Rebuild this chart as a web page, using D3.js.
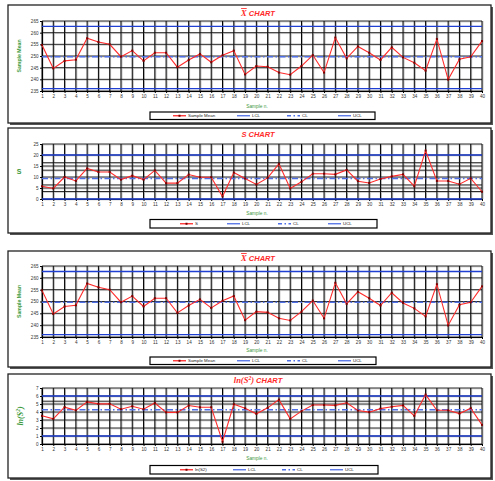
<!DOCTYPE html>
<html>
<head>
<meta charset="utf-8">
<script src="https://cdn.jsdelivr.net/npm/d3@7"></script>
<style>
  body { margin: 0; background: #fff; }
  svg { display: block; font-family: "Liberation Sans", Arial, sans-serif; }
</style>
</head>
<body>
<svg id="chart" width="495" height="481"></svg>
<script>
// ---- data -------------------------------------------------------------
const samples = [1,2,3,4,5,6,7,8,9,10,11,12,13,14,15,16,17,18,19,20,
                 21,22,23,24,25,26,27,28,29,30,31,32,33,34,35,36,37,38,39,40];

const sampleMean = [254.7,244.7,247.9,248.4,257.6,256.0,255.0,249.7,252.3,247.9,
                    251.4,251.4,245.2,248.3,250.9,247.3,250.3,252.3,242.1,245.7,
                    245.4,242.9,242.0,245.7,250.4,242.9,257.9,249.0,254.1,251.4,
                    248.3,253.7,249.4,247.1,243.7,257.3,239.9,248.6,249.7,256.4];

const sValues = [5.8,4.8,10.0,8.2,13.9,12.3,12.3,8.8,10.6,8.8,
                 13.0,7.2,7.2,11.1,9.9,9.9,1.15,12.0,9.3,6.6,
                 9.6,16.0,4.8,7.8,11.5,11.5,11.2,13.2,8.1,7.3,
                 9.1,10.3,11.2,5.8,22.0,8.2,8.2,6.7,9.4,3.3];

const lnS2Values = [3.52,3.14,4.61,4.21,5.26,5.02,5.02,4.35,4.72,4.35,
                    5.13,3.95,3.95,4.81,4.59,4.59,0.28,4.97,4.46,3.77,
                    4.52,5.55,3.14,4.11,4.88,4.88,4.83,5.16,4.18,3.98,
                    4.42,4.66,4.83,3.52,6.18,4.21,4.21,3.80,4.48,2.39];

// control limits: [LCL, CL, UCL]
const xbarLimits = [236.0, 249.7, 262.7];
const sLimits    = [0, 9.3, 20];
const lnLimits   = [1.0, 4.28, 6.0];

// axis ticks
const xbarTicks = [235,240,245,250,255,260,265];
const sTicks    = [0,5,10,15,20,25];
const lnTicks   = [0,1,2,3,4,5,6,7];

// additional horizontal grid values
const sGrid  = [3.4, 6.4, 13.1, 16.5];
const lnGrid = [5.35];

const legendLabels = ["LCL", "CL", "UCL"];

// ---- layout -----------------------------------------------------------
const svg = d3.select("#chart");
const RED = "#ff2a2a", BLUE = "#1e3fd2", BLUE_CL = "#4f6fe6", GREEN = "#3c9a3c";

const panels = [
  { title: "xbar", values: sampleMean, seriesName: "Sample Mean", yTitle: "Sample Mean",
    limits: xbarLimits, ticks: xbarTicks, grid: [],
    box: [8, 5, 483, 118], plotY: [21, 91], titleY: 16, tickY: 99, xTitleY: 108,
    legend: [150, 112, 225, 7.5], legendX: [23, 87, 137, 188] },
  { title: "s", values: sValues, seriesName: "S", yTitle: "S",
    limits: sLimits, ticks: sTicks, grid: sGrid,
    box: [8, 128, 483, 105], plotY: [144, 199], titleY: 137, tickY: 206, xTitleY: 215,
    legend: [150, 219.5, 227, 8.5], legendX: [30, 77, 128, 178] },
  { title: "xbar", values: sampleMean, seriesName: "Sample Mean", yTitle: "Sample Mean",
    limits: xbarLimits, ticks: xbarTicks, grid: [],
    box: [8, 251, 483, 116], plotY: [266, 337], titleY: 261, tickY: 344, xTitleY: 352,
    legend: [150, 357, 226, 7.5], legendX: [23, 87, 137, 188] },
  { title: "ln", values: lnS2Values, seriesName: "ln(S2)", yTitle: "ln",
    limits: lnLimits, ticks: lnTicks, grid: lnGrid,
    box: [8, 374, 483, 104], plotY: [388, 444], titleY: 383, tickY: 451, xTitleY: 460,
    legend: [150, 465.5, 228, 8.5], legendX: [30, 83, 132, 180] }
];

const x = d3.scaleLinear().domain([1, 40]).range([42, 482]);

panels.forEach(p => {
  const g = svg.append("g");
  const [bx, by, bw, bh] = p.box;

  // panel frame with a small drop shadow
  g.append("rect").attr("x", bx + 2).attr("y", by + 2).attr("width", bw).attr("height", bh)
    .attr("fill", "#555");
  g.append("rect").attr("x", bx).attr("y", by).attr("width", bw).attr("height", bh)
    .attr("fill", "#fff").attr("stroke", "#222").attr("stroke-width", 1.3);

  const y = d3.scaleLinear()
    .domain([p.ticks[0], p.ticks[p.ticks.length - 1]])
    .range([p.plotY[1], p.plotY[0]]);

  // title
  const t = g.append("text").attr("x", 258).attr("y", p.titleY)
    .attr("text-anchor", "middle").attr("fill", RED)
    .attr("font-size", 7.5).attr("font-weight", "bold").attr("font-style", "italic");
  if (p.title === "xbar") {
    t.append("tspan").attr("font-family", "Liberation Serif, serif").attr("font-size", 8.5)
      .style("text-decoration", "overline").text("X");
    t.append("tspan").text(" CHART");
  } else if (p.title === "s") {
    t.text("S  CHART");
  } else {
    t.append("tspan").attr("font-family", "Liberation Serif, serif").attr("font-size", 8.5).text("ln(S");
    t.append("tspan").attr("font-family", "Liberation Serif, serif").attr("font-size", 5.5).attr("dy", -3).text("2");
    t.append("tspan").attr("font-family", "Liberation Serif, serif").attr("font-size", 8.5).attr("dy", 3).text(")");
    t.append("tspan").text(" CHART");
  }

  // grid lines: light gray under-stroke plus black line
  const gridG = g.append("g");
  const hVals = p.ticks.concat(p.grid);
  gridG.selectAll(".vs").data(samples).join("line")
    .attr("x1", d => x(d) + 0.9).attr("x2", d => x(d) + 0.9)
    .attr("y1", p.plotY[0]).attr("y2", p.plotY[1])
    .attr("stroke", "#b0b0b0").attr("stroke-width", 1);
  gridG.selectAll(".hs").data(hVals).join("line")
    .attr("x1", x(1)).attr("x2", x(40))
    .attr("y1", d => y(d) + 0.9).attr("y2", d => y(d) + 0.9)
    .attr("stroke", "#c4c4c4").attr("stroke-width", 0.8);
  gridG.selectAll(".v").data(samples).join("line")
    .attr("x1", d => x(d)).attr("x2", d => x(d))
    .attr("y1", p.plotY[0]).attr("y2", p.plotY[1])
    .attr("stroke", "#000").attr("stroke-width", 1);
  gridG.selectAll(".h").data(hVals).join("line")
    .attr("x1", x(1)).attr("x2", x(40))
    .attr("y1", d => y(d)).attr("y2", d => y(d))
    .attr("stroke", "#111").attr("stroke-width", 0.9);

  // axes
  const yAxis = d3.axisLeft(y).tickValues(p.ticks).tickFormat(d3.format("d"))
    .tickSize(2).tickPadding(1.5);
  const ya = g.append("g").attr("transform", `translate(${x(1)},0)`).call(yAxis);
  const xAxis = d3.axisBottom(x).tickValues(samples).tickFormat(d3.format("d"))
    .tickSize(2).tickPadding(1.5);
  const xa = g.append("g").attr("transform", `translate(0,${p.plotY[1]})`).call(xAxis);
  [ya, xa].forEach(a => {
    a.select(".domain").attr("stroke", "#000");
    a.selectAll(".tick line").attr("stroke", "#000");
    a.selectAll("text").attr("font-size", 4.6).attr("fill", "#333")
      .attr("font-family", "Liberation Sans, Arial, sans-serif");
  });

  // control limits
  const [lcl, cl, ucl] = p.limits;
  [lcl, ucl].forEach(v => g.append("line")
    .attr("x1", x(1)).attr("x2", x(40)).attr("y1", y(v)).attr("y2", y(v))
    .attr("stroke", BLUE).attr("stroke-width", 1.4));
  g.append("line")
    .attr("x1", x(1)).attr("x2", x(40)).attr("y1", y(cl)).attr("y2", y(cl))
    .attr("stroke", BLUE_CL).attr("stroke-width", 1.4).attr("stroke-dasharray", "6,2.5,1.5,2.5");

  // series
  const line = d3.line().x((d, i) => x(samples[i])).y(d => y(d));
  g.append("path").datum(p.values).attr("d", line)
    .attr("fill", "none").attr("stroke", RED).attr("stroke-width", 1.1);
  g.selectAll(".pt").data(p.values).join("rect")
    .attr("x", (d, i) => x(samples[i]) - 1).attr("y", d => y(d) - 1)
    .attr("width", 2).attr("height", 2).attr("fill", "#7a0000");

  // axis titles
  g.append("text").attr("x", 257).attr("y", p.xTitleY).attr("text-anchor", "middle")
    .attr("font-size", 4.8).attr("fill", GREEN).text("Sample n.");
  const cy = (p.plotY[0] + p.plotY[1]) / 2;
  if (p.yTitle === "S") {
    g.append("text").attr("x", 19).attr("y", cy + 2.5).attr("text-anchor", "middle")
      .attr("font-size", 7).attr("font-weight", "bold").attr("fill", GREEN).text("S");
  } else if (p.yTitle === "ln") {
    const yt = g.append("text").attr("transform", `translate(23,${cy}) rotate(-90)`)
      .attr("text-anchor", "middle").attr("font-size", 8).attr("font-weight", "bold")
      .attr("font-style", "italic").attr("fill", GREEN).attr("font-family", "Liberation Serif, serif");
    yt.append("tspan").text("ln(S");
    yt.append("tspan").attr("font-size", 5.5).attr("dy", -3).text("2");
    yt.append("tspan").attr("dy", 3).text(")");
  } else {
    g.append("text").attr("transform", `translate(21,${cy}) rotate(-90)`)
      .attr("text-anchor", "middle").attr("font-size", 5.2).attr("font-weight", "bold")
      .attr("fill", GREEN).text(p.yTitle);
  }

  // legend
  const [lx, ly, lw, lh] = p.legend;
  const lg = g.append("g").attr("transform", `translate(${lx},${ly})`);
  lg.append("rect").attr("width", lw).attr("height", lh)
    .attr("fill", "#fff").attr("stroke", "#000").attr("stroke-width", 1.2);
  const my = lh / 2;
  const entries = [p.seriesName].concat(legendLabels);
  entries.forEach((name, i) => {
    const ex = p.legendX[i];
    const ln = lg.append("line").attr("x1", ex).attr("x2", ex + 13).attr("y1", my).attr("y2", my)
      .attr("stroke-width", 1.3);
    if (i === 0) {
      ln.attr("stroke", RED);
      lg.append("rect").attr("x", ex + 5.5).attr("y", my - 1).attr("width", 2).attr("height", 2)
        .attr("fill", "#7a0000");
    } else if (i === 2) {
      ln.attr("stroke", BLUE_CL).attr("stroke-dasharray", "4,2.5,1.5,2.5");
    } else {
      ln.attr("stroke", BLUE_CL);
    }
    lg.append("text").attr("x", ex + 15).attr("y", my + 1.6)
      .attr("font-size", 4.4).attr("fill", "#222").text(name);
  });
});
</script>
</body>
</html>
